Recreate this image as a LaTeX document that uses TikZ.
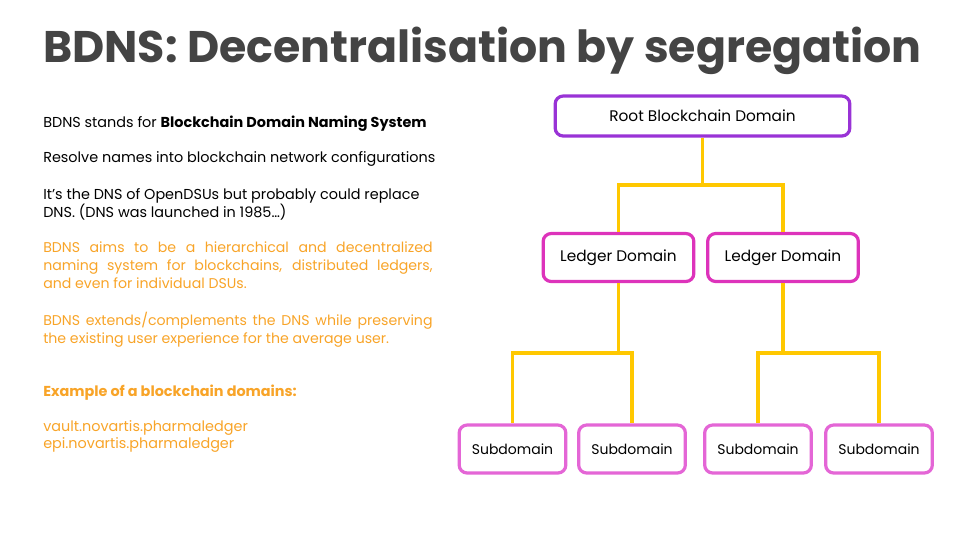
\documentclass[tikz,border=0pt]{standalone}
\usepackage{fontspec}
\setmainfont{Poppins}
\definecolor{titlegray}{HTML}{444444}
\definecolor{orangetxt}{HTML}{F8A428}
\definecolor{rootpurple}{HTML}{9933D6}
\definecolor{ledgermag}{HTML}{DD33BB}
\definecolor{subpink}{HTML}{E466D6}
\definecolor{linkyellow}{HTML}{FFC800}
\tikzset{
  box/.style={draw, line width=2.4pt, rounded corners=6pt, fill=white, inner sep=0pt, font=\fontsize{11.5}{14}\selectfont},
  rootbox/.style={box, draw=rootpurple, minimum width=221pt, minimum height=30pt},
  ledgerbox/.style={box, draw=ledgermag, minimum width=113pt, minimum height=36pt},
  subbox/.style={box, draw=subpink, minimum width=80pt, minimum height=36pt, font=\fontsize{10.5}{13}\selectfont},
  link/.style={draw=linkyellow, line width=2.4pt},
  bodytxt/.style={anchor=base west, inner sep=0pt, font=\fontsize{10.8}{13.5}\selectfont},
  orangepar/.style={anchor=north west, inner sep=0pt, text=orangetxt, text width=292pt, align=justify, font=\fontsize{10.6}{13.5}\selectfont}
}
\begin{document}
\begin{tikzpicture}[x=0.75pt,y=-0.75pt]
\useasboundingbox (0,0) rectangle (960,540);
% title
\node[anchor=base west, inner sep=0pt, text=titlegray, font=\fontsize{33.2}{37}\bfseries\selectfont] (title) at (43,62) {BDNS: Decentralisation by segregation};
% left text
\node[bodytxt] (t1) at (43,127) {BDNS stands for \textbf{Blockchain Domain Naming System}};
\node[bodytxt] (t2) at (43,162) {Resolve names into blockchain network configurations};
\node[bodytxt] (t3) at (43,199) {It’s the DNS of OpenDSUs but probably could replace};
\node[bodytxt] (t4) at (43,217) {DNS. (DNS was launched in 1985…)};
\node[orangepar] (p1) at (43,241) {BDNS aims to be a hierarchical and decentralized\linebreak naming system for blockchains, distributed ledgers,\linebreak and even for individual DSUs.};
\node[orangepar] (p2) at (43,312) {BDNS extends/complements the DNS while preserving\linebreak the existing user experience for the average user.};
\node[bodytxt, text=orangetxt] (ex) at (43,396) {\textbf{Example of a blockchain domains:}};
\node[bodytxt, text=orangetxt] (v1) at (43,431) {vault.novartis.pharmaledger};
\node[bodytxt, text=orangetxt] (v2) at (43,448) {epi.novartis.pharmaledger};
% tree
\node[rootbox] (root) at (702.5,116) {Root Blockchain Domain};
\node[ledgerbox] (l1) at (618.5,257.5) {Ledger Domain};
\node[ledgerbox] (l2) at (783,257.5) {Ledger Domain};
\node[subbox] (s1) at (512.5,449) {Subdomain};
\node[subbox] (s2) at (632,449) {Subdomain};
\node[subbox] (s3) at (758,449) {Subdomain};
\node[subbox] (s4) at (879,449) {Subdomain};
\coordinate (j0) at (702.5,185);
\coordinate (j1) at (618.5,353);
\coordinate (j2) at (783,353);
\draw[link] (root.south) -- (j0);
\draw[link] (j0) -| (l1.north);
\draw[link] (j0) -| (l2.north);
\draw[link] (l1.south) -- (j1);
\draw[link] (j1) -| (s1.north);
\draw[link] (j1) -| (s2.north);
\draw[link] (l2.south) -- (j2);
\draw[link] (j2) -| (s3.north);
\draw[link] (j2) -| (s4.north);
\end{tikzpicture}
\end{document}
